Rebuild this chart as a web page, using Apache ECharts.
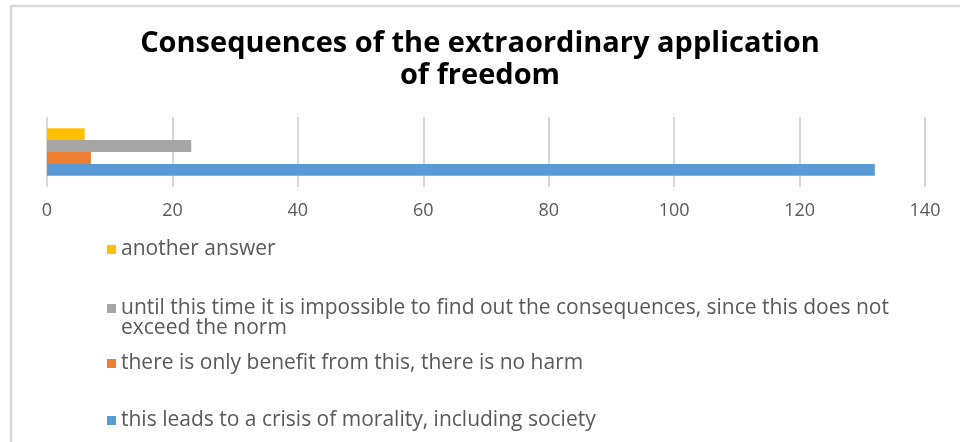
<!DOCTYPE html>
<html>
<head>
<meta charset="utf-8">
<script src="https://cdn.jsdelivr.net/npm/echarts@6/dist/echarts.min.js"></script>
<style>
  html, body { margin: 0; padding: 0; background: #ffffff; }
  #chart { width: 960px; height: 442px; }
</style>
</head>
<body>
<div id="chart"></div>
<script>
// Survey answers: one category, one bar per answer
const categories = ['Consequences'];
const answerNames = [
  'this leads to a crisis of morality, including society',
  'there is only benefit from this, there is no harm',
  'until this time it is impossible to find out the consequences, since this does not exceed the norm',
  'another answer'
];
const crisisValues = [132];
const benefitValues = [7];
const unknownValues = [23];
const otherValues = [6];
const tickValues = [0, 20, 40, 60, 80, 100, 120, 140];

const seriesValues = [crisisValues, benefitValues, unknownValues, otherValues];
const colors = ['#5B9BD5', '#ED7D31', '#A5A5A5', '#FFC000'];

const FONT = '"Open Sans", sans-serif';
const TEXT_GREY = '#595959';

// Legend entries stacked top to bottom in reverse series order.
// The long entry wraps after "does not"; a leading blank line keeps
// its first line level with the colour swatch.
const legendTops = [410, 353, 278, 239];
const legends = answerNames.map((name, i) => ({
  show: true,
  orient: 'vertical',
  left: 107,
  top: legendTops[i],
  padding: 0,
  itemWidth: 9,
  itemHeight: 9,
  icon: 'rect',
  data: [name],
  selectedMode: false,
  formatter: n => (i === 2 ? n.replace('this does not ', 'this does not\n').replace(/^/, '\n') : n),
  textStyle: {
    fontFamily: FONT,
    fontSize: 21,
    color: TEXT_GREY,
    lineHeight: 20
  }
}));

// Bars are stacked top to bottom within the category: last answer on top
const drawOrder = [3, 2, 1, 0];

const chart = echarts.init(document.getElementById('chart'), null, { renderer: 'canvas' });
chart.setOption({
  animation: false,
  backgroundColor: '#ffffff',
  title: {
    text: 'Consequences of the extraordinary application\nof freedom',
    left: 'center',
    top: 23,
    textStyle: {
      fontFamily: FONT,
      fontWeight: 'bold',
      fontSize: 29,
      lineHeight: 32,
      color: '#000000'
    }
  },
  legend: legends,
  grid: { left: 47, right: 35, top: 117, height: 70, containLabel: false },
  xAxis: {
    type: 'value',
    min: tickValues[0],
    max: tickValues[tickValues.length - 1],
    interval: tickValues[1] - tickValues[0],
    axisLine: { show: false },
    axisTick: { show: false },
    axisLabel: {
      fontFamily: FONT,
      fontSize: 18,
      color: TEXT_GREY,
      margin: 15
    },
    splitLine: { show: true, lineStyle: { color: '#d9d9d9', width: 2 } }
  },
  yAxis: {
    type: 'category',
    data: categories,
    axisLine: { show: false },
    axisTick: { show: false },
    axisLabel: { show: false }
  },
  series: drawOrder.map(i => ({
    name: answerNames[i],
    type: 'bar',
    data: seriesValues[i],
    barGap: '0%',
    barCategoryGap: '32%',
    itemStyle: { color: colors[i] }
  })),
  graphic: [{
    type: 'rect',
    silent: true,
    shape: { x: 11, y: 6, width: 1000, height: 500 },
    style: { fill: null, stroke: '#d9d9d9', lineWidth: 2.5 }
  }]
});
</script>
</body>
</html>
